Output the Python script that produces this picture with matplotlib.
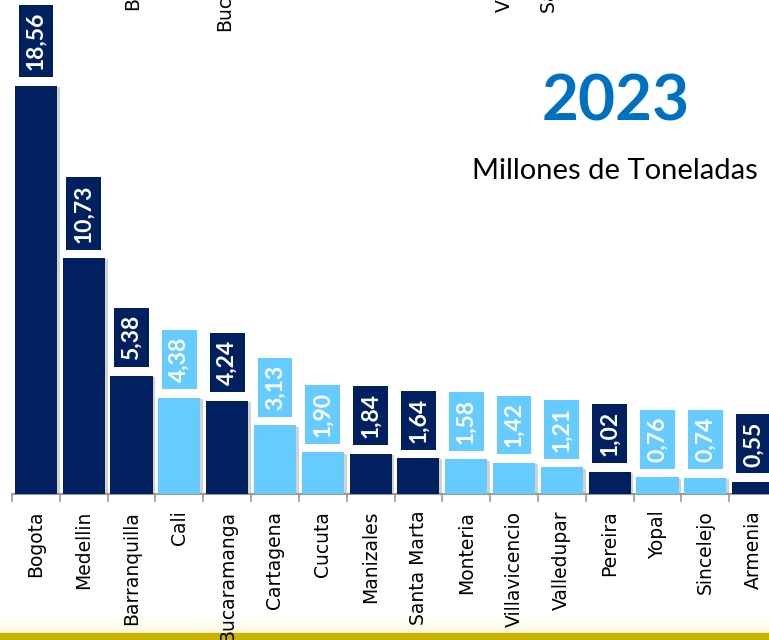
import matplotlib
matplotlib.use("Agg")
import matplotlib.pyplot as plt
import matplotlib.patheffects as pe
import numpy as np
from matplotlib.colors import LinearSegmentedColormap

cities = ["Bogota", "Medellin", "Barranquilla", "Cali", "Bucaramanga", "Cartagena",
          "Cucuta", "Manizales", "Santa Marta", "Monteria", "Villavicencio",
          "Valledupar", "Pereira", "Yopal", "Sincelejo", "Armenia"]
values = [18.56, 10.73, 5.38, 4.38, 4.24, 3.13, 1.90, 1.84, 1.64, 1.58, 1.42,
          1.21, 1.02, 0.76, 0.74, 0.55]
dark_group = ["Bogota", "Medellin", "Barranquilla", "Bucaramanga", "Manizales",
              "Santa Marta", "Pereira", "Armenia"]

DARK = "#002060"
LIGHT = "#66CCFF"

fig = plt.figure(figsize=(7.69, 6.40), dpi=100)
fig.patch.set_facecolor("white")

ax = fig.add_axes([12/769, 146/640, 765/769, 494/640])
x = np.arange(len(cities))
colors = [DARK if c in dark_group else LIGHT for c in cities]
bars = ax.bar(x, values, width=0.88, color=colors, zorder=3)
for b in bars:
    b.set_path_effects([pe.SimplePatchShadow(offset=(2, -1), shadow_rgbFace="#808080", alpha=0.35),
                        pe.Normal()])

ax.set_xlim(-0.5, len(cities) - 0.5)
ax.set_ylim(0, 494/22.0)

for xi, v, c in zip(x, values, colors):
    ax.annotate(f"{v:.2f}".replace(".", ","), (xi, v), xytext=(0, 11),
                textcoords="offset points", rotation=90, ha="center", va="bottom",
                fontsize=16.5, fontweight="bold", family="Lato", color="white",
                bbox=dict(boxstyle="square,pad=0.3", fc=c, ec="none"),
                annotation_clip=False, zorder=4)

for s in ["top", "right", "left"]:
    ax.spines[s].set_visible(False)
ax.spines["bottom"].set_color("#9a9a9a")
ax.spines["bottom"].set_linewidth(1.5)
ax.set_yticks([])
ax.set_xticks(x)
ax.set_xticklabels(cities, rotation=90, fontsize=13.5, family="DejaVu Sans", color="black")
ax.tick_params(axis="x", which="major", length=0, pad=12)
ax.set_xticks(np.arange(-0.5, len(cities)), minor=True)
ax.tick_params(axis="x", which="minor", length=6, width=1.2, color="#9a9a9a")

fig.text(0.80, 0.84, "2023", ha="center", va="center", fontsize=46,
         fontweight="bold", family="Lato", color="#0070C0")
fig.text(0.80, 0.733, "Millones de Toneladas", ha="center", va="center",
         fontsize=21, family="Lato", color="black")

# partial labels cut off at the top edge
for t, xx, yy in [("Barranquilla", 0.172, 0.984), ("Bucaramanga", 0.292, 0.952),
                  ("Villavicencio", 0.656, 0.982), ("Santa Marta", 0.714, 0.98)]:
    fig.text(xx, yy, t, rotation=90, ha="center", va="bottom", fontsize=13.5,
             family="DejaVu Sans", color="black")

# bottom band with soft gradient
gax = fig.add_axes([0, 0, 1, 24/640])
grad = np.linspace(0, 1, 50).reshape(-1, 1)
cmap = LinearSegmentedColormap.from_list("g", ["#FFF6D0", "#FFFFFF"])
gax.imshow(grad, aspect="auto", cmap=cmap, origin="lower", extent=[0, 1, 0, 1])
gax.axhspan(0, 7/24, color="#C8B400")
gax.set_xlim(0, 1)
gax.set_ylim(0, 1)
gax.axis("off")
gax.set_zorder(-1)

fig.savefig("out.png", dpi=100)
